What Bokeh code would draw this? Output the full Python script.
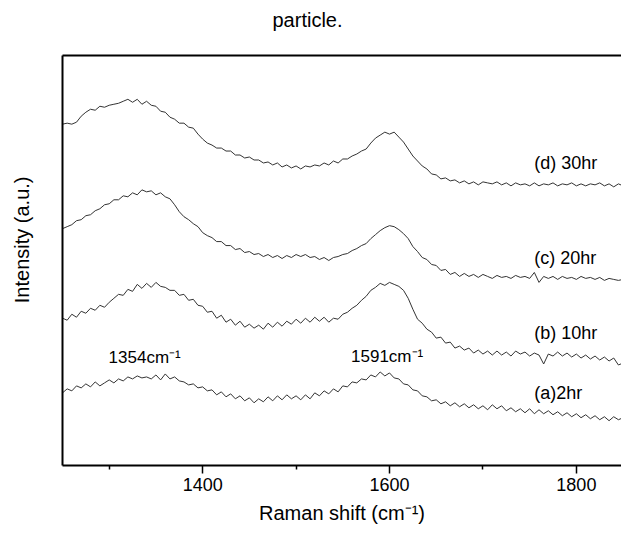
from bokeh.plotting import figure
from bokeh.models import Range1d, FixedTicker, Title, LinearAxis
from bokeh.embed import file_html
from bokeh.resources import INLINE
from bokeh.core.properties import value

# Raman shift sampling (cm^-1)
wavenumber = list(range(1250, 1851, 5))

# intensities (a.u., vertically offset traces)
series_a = [73, 77, 75, 80, 78, 82, 79, 84, 80, 83, 86, 83, 87, 85, 89, 87, 90, 88, 89, 87,
            91, 86, 92, 87, 89, 85, 84, 81, 82, 78, 79, 75, 76, 71, 74, 69, 72, 67, 70, 65,
            68, 63, 67, 64, 69, 65, 70, 66, 71, 67, 70, 66, 71, 67, 73, 70, 75, 72, 77, 74,
            80, 79, 84, 83, 87, 86, 91, 89, 94, 90, 93, 88, 87, 82, 81, 76, 75, 70, 69, 65,
            66, 62, 64, 60, 63, 59, 62, 58, 61, 57, 60, 56, 61, 57, 60, 55, 58, 54, 57, 53,
            57, 52, 56, 52, 55, 51, 54, 50, 53, 49, 52, 48, 51, 47, 50, 46, 49, 45, 49, 46, 48]
series_b = [148, 146, 152, 149, 155, 153, 158, 156, 161, 159, 164, 168, 172, 171, 177, 175, 182, 178, 183, 179,
            184, 180, 179, 176, 176, 171, 172, 166, 167, 161, 160, 154, 155, 148, 151, 144, 147, 141, 145, 139,
            142, 138, 141, 137, 143, 139, 144, 140, 145, 142, 147, 143, 148, 144, 149, 145, 149, 144, 148, 147,
            152, 154, 158, 161, 166, 170, 176, 179, 183, 181, 184, 182, 180, 176, 168, 157, 147, 143, 137, 134,
            128, 129, 123, 124, 118, 120, 116, 118, 113, 116, 112, 115, 111, 115, 111, 114, 110, 115, 112, 114,
            110, 113, 111, 102, 112, 110, 114, 110, 113, 109, 112, 108, 111, 107, 110, 106, 109, 105, 108, 101, 103]
series_c = [238, 240, 242, 246, 247, 251, 252, 256, 258, 262, 263, 267, 267, 271, 270, 274, 272, 277, 275, 276,
            272, 274, 270, 268, 262, 255, 250, 247, 243, 240, 234, 231, 229, 225, 225, 221, 221, 217, 218, 214,
            215, 212, 213, 210, 212, 209, 211, 208, 211, 209, 212, 210, 212, 209, 210, 207, 209, 206, 209, 210,
            212, 213, 216, 218, 221, 223, 228, 232, 236, 239, 241, 240, 237, 233, 228, 220, 215, 209, 207, 202,
            201, 196, 197, 192, 194, 190, 193, 190, 192, 189, 192, 190, 188, 191, 189, 190, 188, 191, 189, 190,
            188, 194, 184, 190, 188, 190, 187, 190, 188, 189, 187, 190, 188, 189, 187, 189, 186, 188, 187, 186, 187]
series_d = [343, 344, 343, 345, 351, 355, 358, 357, 361, 360, 362, 363, 364, 366, 368, 365, 368, 363, 366, 362,
            361, 356, 355, 350, 348, 344, 344, 340, 339, 333, 328, 324, 322, 319, 319, 316, 316, 312, 312, 309,
            310, 307, 307, 304, 305, 302, 304, 300, 302, 299, 301, 298, 301, 300, 302, 301, 304, 302, 306, 304,
            308, 308, 311, 313, 316, 318, 324, 329, 332, 335, 333, 335, 330, 325, 318, 311, 306, 301, 298, 293,
            292, 288, 289, 286, 287, 284, 286, 283, 285, 282, 285, 284, 283, 285, 282, 284, 281, 284, 282, 283,
            281, 284, 281, 283, 282, 284, 281, 283, 282, 284, 281, 283, 281, 283, 282, 284, 281, 283, 280, 283, 281]

series_labels = ["(a)2hr", "(b) 10hr", "(c) 20hr", "(d) 30hr"]
peak_positions = [1354, 1591]
peak_labels = ["1354cm\u207b\u00b9", "1591cm\u207b\u00b9"]

FONT = "Liberation Sans"
LINE = "#333333"

p = figure(width=621, height=533, output_backend="svg", toolbar_location=None,
           x_range=Range1d(1250, 1848.3), y_range=Range1d(0, 412),
           min_border_left=61, min_border_right=0, min_border_top=53, min_border_bottom=68)
p.outline_line_color = None
p.grid.visible = False
p.background_fill_color = "white"
p.border_fill_color = "white"

# caption fragment above the plot
p.title.text = "particle."
p.title.align = "left"
p.title.offset = 210
p.title.standoff = 13
p.title.text_font = FONT
p.title.text_font_style = "normal"
p.title.text_font_size = "20px"
p.title.text_color = "black"

for ys in [series_a, series_b, series_c, series_d]:
    p.line(wavenumber, ys, line_color=LINE, line_width=1)

# curve labels
idx = wavenumber.index(1760)
for ys, lab, dy in zip([series_a, series_b, series_c, series_d], series_labels, [17, 22, 24, 23]):
    p.text(x=[1755], y=[ys[idx]], text=[lab], text_font=value(FONT), text_font_size="18px",
           text_align="left", text_baseline="middle", y_offset=-dy, text_color="black")

# peak labels
for pos, lab, dx, dy in zip(peak_positions, peak_labels, [-15, 6], [22, 15]):
    i = wavenumber.index(int(round(pos / 5.0) * 5))
    p.text(x=[pos], y=[series_a[i]], text=[lab], text_font=value(FONT), text_font_size="17px",
           text_align="center", text_baseline="middle", x_offset=dx, y_offset=-dy, text_color="black")

xa = p.below[0]
xa.ticker = FixedTicker(ticks=[1400, 1600, 1800], minor_ticks=[1300, 1500, 1700])
xa.axis_line_width = 2
xa.axis_line_color = "black"
xa.major_tick_out = 8
xa.major_tick_in = 0
xa.minor_tick_out = 4
xa.minor_tick_in = 0
xa.major_tick_line_width = 1.5
xa.minor_tick_line_width = 1.5
xa.major_label_text_font = FONT
xa.major_label_text_font_size = "18px"
xa.major_label_text_color = "black"
xa.major_label_standoff = 4
xa.axis_label = "Raman shift (cm\u207b\u00b9)"
xa.axis_label_text_font = FONT
xa.axis_label_text_font_size = "20px"
xa.axis_label_text_font_style = "normal"
xa.axis_label_text_color = "black"
xa.axis_label_standoff = 8

# top frame line: an axis without ticks; its blank label spaces the caption upward
top_axis = LinearAxis(ticker=FixedTicker(ticks=[]), axis_line_width=2, axis_line_color="black",
                      major_tick_out=0, major_tick_in=0, minor_tick_out=0, minor_tick_in=0,
                      major_label_standoff=0, axis_label=" ", axis_label_standoff=6,
                      axis_label_text_font_size="8px")
p.add_layout(top_axis, "above")

ya = p.left[0]
ya.ticker = FixedTicker(ticks=[])
ya.axis_line_width = 2
ya.axis_line_color = "black"
ya.major_tick_out = 0
ya.major_tick_in = 0
ya.minor_tick_out = 0
ya.minor_tick_in = 0
ya.major_label_standoff = 0
ya.axis_label = " "
ya.axis_label_standoff = 8
ya.axis_label_text_font_size = "10px"

# y axis title as a side title (placed off-centre like the reference)
p.add_layout(Title(text="Intensity (a.u.)", align="right", offset=121, standoff=16, text_font=FONT,
                   text_font_size="20px", text_font_style="normal", text_color="black"), "left")

open("out.html", "w").write(file_html(p, INLINE))
